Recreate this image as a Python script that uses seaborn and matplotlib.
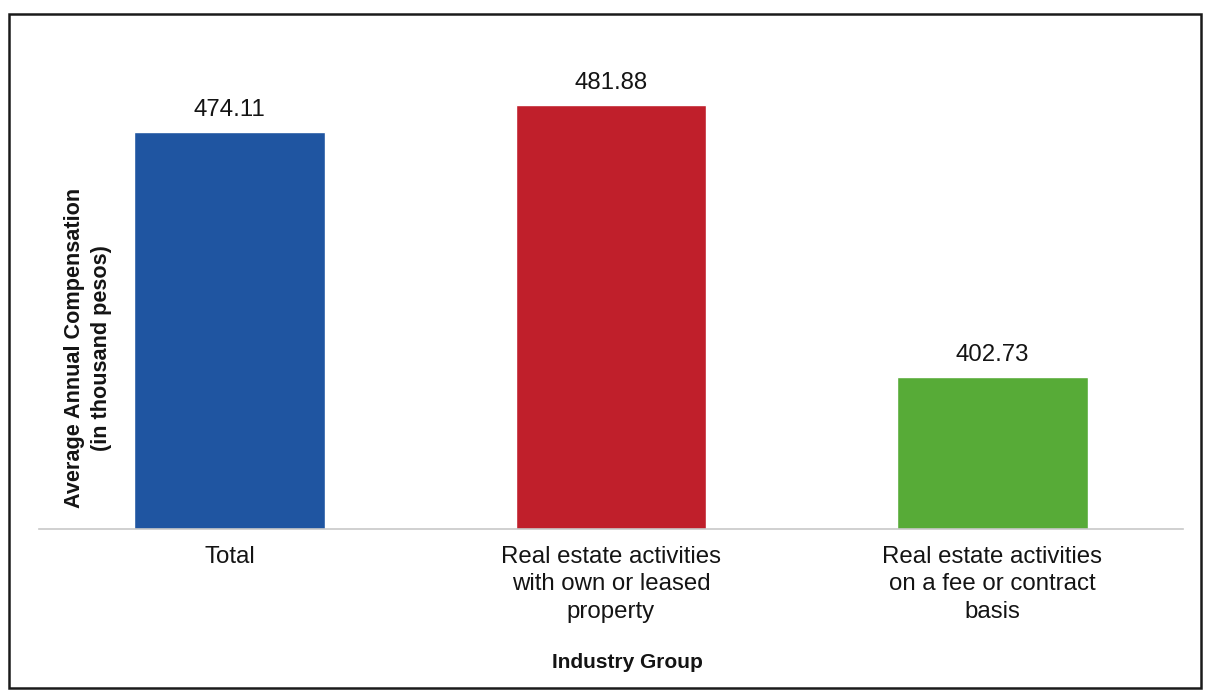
import matplotlib
matplotlib.use("Agg")
import matplotlib.pyplot as plt
import seaborn as sns
import pandas as pd
from matplotlib.patches import Rectangle

categories = ["Total",
              "Real estate activities\nwith own or leased\nproperty",
              "Real estate activities\non a fee or contract\nbasis"]
values = [474.11, 481.88, 402.73]
colors = ["#1f55a1", "#c01f2b", "#57ab37"]

sns.set_theme(style="white")
plt.rcParams["font.family"] = ["Liberation Sans", "DejaVu Sans"]

df = pd.DataFrame({"group": categories, "value": values})

fig = plt.figure(figsize=(12.05, 6.9), dpi=100)
ax = fig.add_axes([39/1205, 1-529/690, (1183-39)/1205, (529-60)/690])

sns.barplot(data=df, x="group", y="value", hue="group", palette=colors,
            width=0.5, saturation=1, legend=False, ax=ax)

ax.set_xlim(-0.5, 2.5)
ax.set_ylim(358.5, 358.5 + (529-60)/3.4366)

for c in ax.containers:
    ax.bar_label(c, labels=[f"{v:.2f}" for v in c.datavalues], padding=8,
                 fontsize=17.3, color="#141414")

for s in ["left", "right", "top"]:
    ax.spines[s].set_visible(False)
ax.spines["bottom"].set_color("#c8c8c8")
ax.spines["bottom"].set_linewidth(1.2)
ax.set_yticks([])
ax.tick_params(axis="x", length=0, pad=12, labelsize=17.3, labelcolor="#141414")
for lbl in ax.get_xticklabels():
    lbl.set_linespacing(1.32)
ax.set_xlabel("")
ax.set_ylabel("")

fig.text(627/1205, 1-663/690, "Industry Group", ha="center", va="center",
         fontsize=15, fontweight="bold", color="#141414")
fig.text(88/1205, 1-348/690, "Average Annual Compensation\n(in thousand pesos)",
         ha="center", va="center", rotation=90, fontsize=15.6, fontweight="bold",
         color="#141414", linespacing=1.4)

fig.patches.append(Rectangle((9/1205, 2/690), (1201-9)/1205, (676-2)/690,
                             transform=fig.transFigure, fill=False,
                             edgecolor="#1a1a1a", linewidth=1.8))

fig.savefig("out.png", dpi=100, facecolor="white")
